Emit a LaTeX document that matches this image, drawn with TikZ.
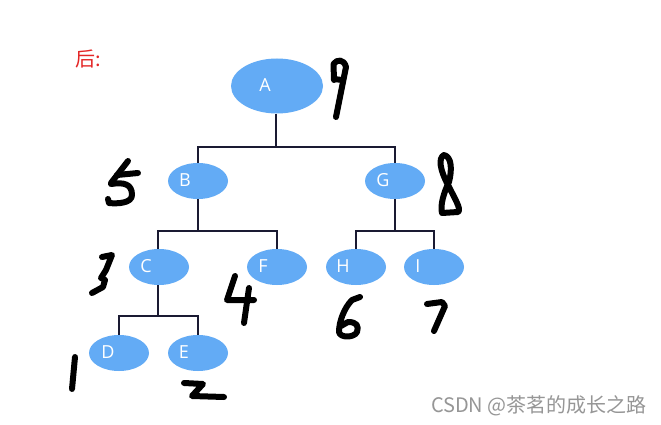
\documentclass[tikz,border=0pt]{standalone}
\usepackage{fontspec}
\usetikzlibrary{shapes.geometric}
\newfontfamily\lblfont{Open Sans}
\newfontfamily\cjkfont{Noto Sans CJK SC}
\definecolor{nodeblue}{RGB}{99,171,245}
\definecolor{edgecol}{RGB}{26,26,50}
\definecolor{inkred}{RGB}{228,38,38}
\definecolor{wmgray}{RGB}{150,150,150}
\tikzset{
  tnode/.style={ellipse, fill=nodeblue, draw=none, minimum width=60pt, minimum height=36pt, inner sep=0pt},
  bignode/.style={tnode, minimum width=92pt, minimum height=55pt},
  lbl/.style={text=white, font=\lblfont\fontsize{18}{20}\selectfont, inner sep=0pt},
  edge/.style={draw=edgecol, line width=2.2pt},
  hand/.style={draw=black, line width=6pt, line cap=round, line join=round}
}
\begin{document}
\begin{tikzpicture}[x=1pt,y=-1pt]
\useasboundingbox (0,0) rectangle (661,425);
\fill[white] (0,0) rectangle (661,425);

% title
\node[text=inkred, font=\cjkfont\fontsize{20}{22}\selectfont, anchor=west, inner sep=0pt] (title) at (75,59) {后:};

% nodes
\node[bignode] (A) at (277,86) {};
\node[tnode] (B) at (198,181) {};
\node[tnode] (G) at (395,181) {};
\node[tnode] (C) at (159,267) {};
\node[tnode] (F) at (277,267) {};
\node[tnode] (H) at (356,267) {};
\node[tnode] (I) at (434,267) {};
\node[tnode] (D) at (119,353) {};
\node[tnode] (E) at (198,353) {};

\node[lbl] (tA) at ([xshift=-12pt,yshift=1pt]A.center) {A};
\node[lbl] (tB) at ([xshift=-13pt,yshift=1pt]B.center) {B};
\node[lbl] (tG) at ([xshift=-12pt,yshift=1pt]G.center) {G};
\node[lbl] (tC) at ([xshift=-13pt,yshift=1pt]C.center) {C};
\node[lbl] (tF) at ([xshift=-14pt,yshift=1pt]F.center) {F};
\node[lbl] (tH) at ([xshift=-13pt,yshift=1pt]H.center) {H};
\node[lbl] (tI) at ([xshift=-16pt,yshift=1pt]I.center) {I};
\node[lbl] (tD) at ([xshift=-11pt,yshift=1pt]D.center) {D};
\node[lbl] (tE) at ([xshift=-14pt,yshift=1pt]E.center) {E};

% connectors
\coordinate (jA) at (276,147);
\coordinate (jB) at (198,231);
\coordinate (jG) at (395,231);
\coordinate (jC) at (158,316);
\draw[edge] (A.south -| jA) -- (jA);
\draw[edge] (B.north) -- (B.north |- jA) -- (G.north |- jA) -- (G.north);
\draw[edge] (B.south) -- (jB);
\draw[edge] ([xshift=-1pt]C.north) -- ([xshift=-1pt]C.north |- jB) -- (F.north |- jB) -- (F.north);
\draw[edge] (G.south) -- (jG);
\draw[edge] (H.north) -- (H.north |- jG) -- (I.north |- jG) -- (I.north);
\draw[edge] (C.south -| jC) -- (jC);
\draw[edge] (D.north) -- (D.north |- jC) -- (E.north |- jC) -- (E.north);

% handwritten numbers
% 9 (near A)
\draw[hand] (334,80) -- (333.5,64) .. controls (337,59) and (344,59) .. (346,67) -- (336,117);
\draw[hand] (334,79) -- (342,80);
% 5 (near B)
\draw[hand] (128,161) -- (111,183);
\draw[hand] (117,175) -- (138,173);
\draw[hand] (111,184) .. controls (124,182) and (132,184) .. (132,195) .. controls (132,203) and (118,204) .. (109,203) -- (108,199);
% 8 (near G)
\draw[hand] (444,155) .. controls (438,158) and (440,170) .. (448,185) .. controls (454,197) and (462,210) .. (458,212) -- (442,213) .. controls (440,205) and (444,192) .. (449,182) .. controls (452,170) and (452,157) .. (444,155);
% 3 (near C)
\draw[hand] (102,257) -- (112,255) -- (106,270) -- (101,278) -- (105,280) -- (103,287) -- (92,293);
% 4 (near F)
\draw[hand] (235,276) -- (227,300) -- (254,300);
\draw[hand] (249,288) -- (244,323);
% 6 (under H)
\draw[hand] (360,297) -- (352,300) .. controls (344,308) and (339,322) .. (339,332) .. controls (340,338) and (354,338) .. (357,332) .. controls (359,326) and (357,322) .. (348,322) -- (341,326);
% 7 (under I)
\draw[hand] (427,304) -- (442,302) -- (445,306) -- (434,331);
% 1 (near D)
\draw[hand] (75,357) -- (72,389);
% 2 (under E)
\draw[hand] (184,383) -- (203,384) -- (192,396) -- (224,397);

% watermark
\node[text=wmgray, font=\cjkfont\fontsize{20}{22}\selectfont, anchor=east, inner sep=0pt] (wm) at (647,406) {CSDN @茶茗的成长之路};
\end{tikzpicture}
\end{document}
